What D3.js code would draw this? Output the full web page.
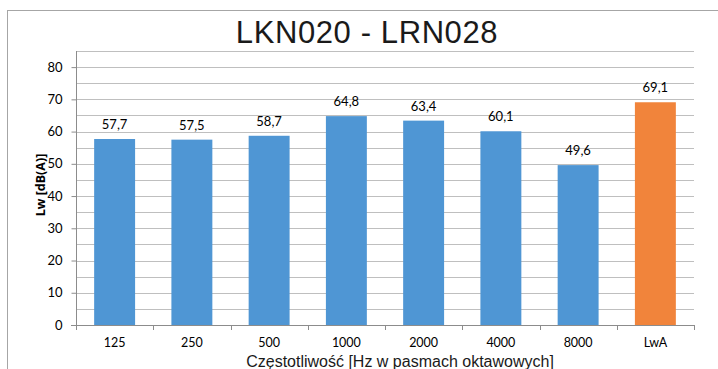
<!DOCTYPE html>
<html>
<head>
<meta charset="utf-8">
<script src="https://cdn.jsdelivr.net/npm/d3@7"></script>
<style>
  html, body { margin: 0; padding: 0; background: #fff; }
  svg { display: block; }
</style>
</head>
<body>
<svg id="chart" width="718" height="369"></svg>
<script>
// Octave-band sound power levels
const categories = ["125", "250", "500", "1000", "2000", "4000", "8000", "LwA"];
const values = [57.7, 57.5, 58.7, 64.8, 63.4, 60.1, 49.6, 69.1];
const yTicks = [0, 10, 20, 30, 40, 50, 60, 70, 80];
const titleText = "LKN020 - LRN028";
const xTitle = "Częstotliwość [Hz w pasmach oktawowych]";
const yTitle = "Lw [dB(A)]";

const svg = d3.select("#chart");
const plot = { left: 76, right: 694, top: 51, bottom: 325 };
const labelFont = "Lato, 'Open Sans', sans-serif";

// chart frame
svg.append("rect")
  .attr("x", 7.5).attr("y", 10.5)
  .attr("width", 760).attr("height", 400)
  .attr("fill", "#fff").attr("stroke", "#a6a6a6").attr("stroke-width", 1);

const x = d3.scaleBand().domain(categories).range([plot.left, plot.right]).paddingInner(0.47).paddingOuter(0.235);
const xb = d3.scaleBand().domain(categories).range([plot.left, plot.right]);
const y = d3.scaleLinear().domain([0, 85]).range([plot.bottom, plot.top]);

// gridlines every 5
const gridVals = d3.range(5, 86, 5);
svg.append("g").selectAll("line").data(gridVals).join("line")
  .attr("x1", plot.left).attr("x2", plot.right)
  .attr("y1", d => Math.round(y(d)) + 0.5).attr("y2", d => Math.round(y(d)) + 0.5)
  .attr("stroke", "#bfbfbf").attr("stroke-width", 1);

// bars
svg.append("g").selectAll("rect").data(values).join("rect")
  .attr("x", (d, i) => x(categories[i]))
  .attr("width", x.bandwidth())
  .attr("y", d => y(d))
  .attr("height", d => y(0) - y(d))
  .attr("fill", (d, i) => categories[i] === "LwA" ? "#f1843b" : "#4f96d4");

// value labels
svg.append("g").selectAll("text").data(values).join("text")
  .attr("x", (d, i) => x(categories[i]) + x.bandwidth() / 2)
  .attr("y", d => y(d) - 10)
  .attr("text-anchor", "middle")
  .attr("font-family", labelFont)
  .attr("font-size", 13)
  .attr("fill", "#000")
  .text(d => d.toFixed(1).replace(".", ","));

// y axis
const yAxis = svg.append("g")
  .attr("transform", `translate(${plot.left + 0.5},0)`)
  .call(d3.axisLeft(y).tickValues(yTicks).tickSize(5).tickPadding(9).tickFormat(d3.format("d")));
yAxis.select(".domain").attr("stroke", "#8c8c8c").attr("d", `M-5,${plot.bottom + 0.5}H0V${plot.top}`);
yAxis.selectAll(".tick line").attr("stroke", "#8c8c8c");
yAxis.selectAll(".tick text")
  .attr("font-family", labelFont)
  .attr("font-size", 13).attr("fill", "#000");

// x axis: ticks at category boundaries
svg.append("line")
  .attr("x1", plot.left - 5).attr("x2", plot.right)
  .attr("y1", plot.bottom + 0.5).attr("y2", plot.bottom + 0.5)
  .attr("stroke", "#8c8c8c");
const bounds = categories.map(c => xb(c)).concat([xb(categories[categories.length - 1]) + xb.bandwidth()]);
svg.append("g").selectAll("line").data(bounds).join("line")
  .attr("x1", d => Math.round(d) + 0.5).attr("x2", d => Math.round(d) + 0.5)
  .attr("y1", plot.bottom).attr("y2", plot.bottom + 5)
  .attr("stroke", "#8c8c8c");
svg.append("g").selectAll("text").data(categories).join("text")
  .attr("x", d => xb(d) + xb.bandwidth() / 2)
  .attr("y", 347)
  .attr("text-anchor", "middle")
  .attr("font-family", labelFont)
  .attr("font-size", 12.5)
  .attr("fill", "#000")
  .text(d => d);

// titles
svg.append("text")
  .attr("x", 367).attr("y", 43)
  .attr("text-anchor", "middle")
  .attr("font-family", "'Liberation Sans', Arial, sans-serif")
  .attr("font-size", 31)
  .attr("letter-spacing", 0.6)
  .attr("fill", "#1a1a1a")
  .text(titleText);

svg.append("text")
  .attr("x", 400).attr("y", 367)
  .attr("text-anchor", "middle")
  .attr("font-family", "'Liberation Sans', Arial, sans-serif")
  .attr("font-size", 16)
  .attr("fill", "#1a1a1a")
  .text(xTitle);

svg.append("text")
  .attr("transform", "translate(45,185) rotate(-90)")
  .attr("text-anchor", "middle")
  .attr("font-family", "'Open Sans', sans-serif")
  .attr("font-weight", "bold")
  .attr("font-size", 12.5)
  .attr("fill", "#000")
  .text(yTitle);
</script>
</body>
</html>
